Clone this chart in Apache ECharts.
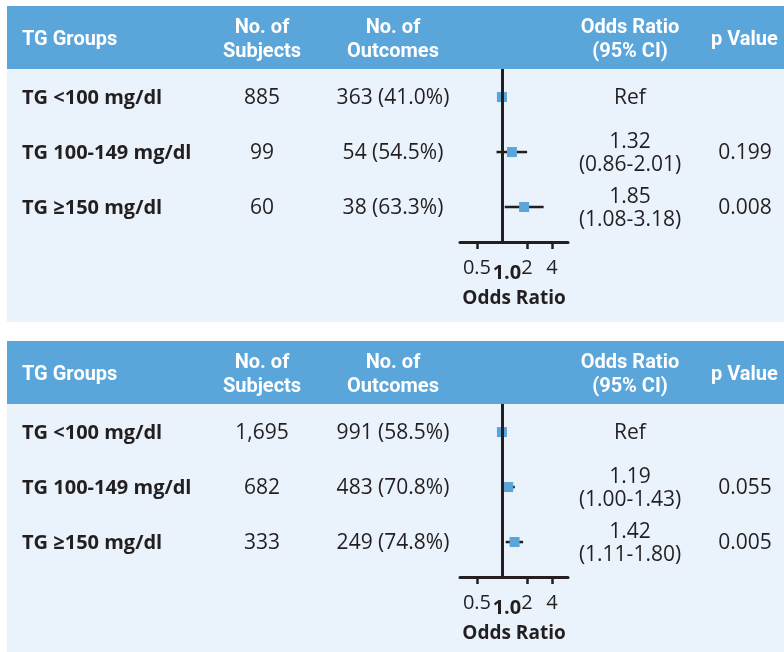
<!DOCTYPE html>
<html>
<head>
<meta charset="utf-8">
<script src="https://cdn.jsdelivr.net/npm/echarts@6/dist/echarts.min.js"></script>
<style>
  html, body { margin: 0; padding: 0; background: #ffffff; }
  #chart { width: 784px; height: 652px; }
</style>
</head>
<body>
<div id="chart"></div>
<script>
// ---- data ----
const groupLabels = ['TG <100 mg/dl', 'TG 100-149 mg/dl', 'TG \u2265150 mg/dl'];

// upper table
const subjectsA = [885, 99, 60];
const outcomesA = [363, 54, 38];
const outcomePctA = [41.0, 54.5, 63.3];
const oddsA = [1, 1.32, 1.85];
const ciLowA = [null, 0.86, 1.08];
const ciHighA = [null, 2.01, 3.18];
const pValueA = [null, 0.199, 0.008];

// lower table
const subjectsB = [1695, 682, 333];
const outcomesB = [991, 483, 249];
const outcomePctB = [58.5, 70.8, 74.8];
const oddsB = [1, 1.19, 1.42];
const ciLowB = [null, 1.00, 1.11];
const ciHighB = [null, 1.43, 1.80];
const pValueB = [null, 0.055, 0.005];

// odds-ratio axis
const oddsTickValues = [0.5, 2, 4];
const oddsLabelValues = [0.5, 1, 2, 4];
const oddsAxisMin = 0.3125;
const oddsAxisMax = 6.25;
const refOdds = 1;

const headerTitles = ['TG Groups', 'No. of\nSubjects', 'No. of\nOutcomes', 'Odds Ratio\n(95% CI)', 'p Value'];

// ---- layout / style ----
const INK = '#231f20';
const BLUE = '#5aa6db';
const PALE = '#eaf2fb';
const HEAD_FONT = 'Roboto, "Open Sans", sans-serif';
const BODY_FONT = '"Open Sans", "Noto Sans", sans-serif';

const panels = [
  { top: 6, height: 316, subjects: subjectsA, outcomes: outcomesA, pct: outcomePctA,
    odds: oddsA, lo: ciLowA, hi: ciHighA, p: pValueA },
  { top: 341, height: 311, subjects: subjectsB, outcomes: outcomesB, pct: outcomePctB,
    odds: oddsB, lo: ciLowB, hi: ciHighB, p: pValueB }
];
const HEADER_H = 63;
const PLOT_H = 173;
const PANEL_X = 7;
const COL = { group: 22, subjects: 262, outcomes: 393, odds: 630, pval: 711, pvalCenter: 745 };

const chart = echarts.init(document.getElementById('chart'), null, { renderer: 'canvas' });

const grids = [], xAxes = [], yAxes = [], series = [];
panels.forEach((pn, k) => {
  grids.push({ left: 460, width: 108, top: pn.top + HEADER_H, height: PLOT_H });
  xAxes.push({
    type: 'log', logBase: 2, gridIndex: k,
    min: oddsAxisMin, max: oddsAxisMax, z: 5,
    axisLine: { show: true, lineStyle: { color: INK, width: 3 } },
    axisTick: { show: true, customValues: oddsTickValues, length: 7, lineStyle: { color: INK, width: 2.5 } },
    axisLabel: {
      customValues: oddsLabelValues, margin: 16, color: INK,
      fontFamily: BODY_FONT, fontSize: 20,
      formatter: v => (Math.abs(v - refOdds) < 1e-9 ? '{ref|1.0}' : '{n|' + v + '}'),
      rich: {
        n: { fontSize: 20, fontFamily: BODY_FONT, color: INK },
        ref: { fontSize: 20, fontWeight: 'bold', fontFamily: BODY_FONT, color: INK, padding: [5, 0, 0, 10] }
      }
    },
    splitLine: { show: false },
    name: 'Odds Ratio', nameLocation: 'middle', nameGap: 47,
    nameTextStyle: { fontFamily: BODY_FONT, fontSize: 19, fontWeight: 'bold', color: INK }
  });
  yAxes.push({
    type: 'value', gridIndex: k, inverse: true, min: 0.49, max: 3.636, show: false
  });

  const ciRows = [];
  pn.lo.forEach((lo, i) => { if (lo !== null) ciRows.push([lo, pn.hi[i], i + 1]); });

  series.push({
    type: 'custom', xAxisIndex: k, yAxisIndex: k, z: 3,
    data: ciRows,
    encode: { x: [0, 1], y: 2 },
    renderItem: (params, api) => {
      const a = api.coord([api.value(0), api.value(2)]);
      const b = api.coord([api.value(1), api.value(2)]);
      return { type: 'line', shape: { x1: a[0], y1: a[1], x2: b[0], y2: b[1] },
               style: { stroke: INK, lineWidth: 2.5 } };
    }
  });
  series.push({
    type: 'scatter', xAxisIndex: k, yAxisIndex: k, z: 4,
    symbol: 'rect', symbolSize: 10,
    itemStyle: { color: BLUE, opacity: 1 },
    data: pn.odds.map((v, i) => [v, i + 1]),
    markLine: {
      silent: true, symbol: 'none', animation: false,
      label: { show: false },
      lineStyle: { color: INK, width: 3, type: 'solid' },
      data: [{ xAxis: refOdds }]
    }
  });
});

chart.setOption({
  animation: false,
  backgroundColor: '#ffffff',
  grid: grids, xAxis: xAxes, yAxis: yAxes, series: series
});

// ---- table text, placed on the rows of each panel's y axis ----
const graphics = [];
const bodyText = (text, x, y, align, bold) => ({
  type: 'text', z: 10,
  style: { text, x, y, align, verticalAlign: 'middle', fill: INK,
           fontSize: bold ? 20 : 21, fontFamily: BODY_FONT, fontWeight: bold ? 'bold' : 'normal', lineHeight: 23 }
});
panels.forEach((pn, k) => {
  graphics.push({ type: 'rect', z: -10, shape: { x: PANEL_X, y: pn.top, width: 784 - PANEL_X, height: pn.height },
                  style: { fill: PALE } });
  graphics.push({ type: 'rect', z: -9, shape: { x: PANEL_X, y: pn.top, width: 784 - PANEL_X, height: HEADER_H },
                  style: { fill: BLUE } });
  const hy = pn.top + HEADER_H / 2 + 2;
  const headX = [COL.group, COL.subjects, COL.outcomes, COL.odds, COL.pval];
  const headAlign = ['left', 'center', 'center', 'center', 'left'];
  headerTitles.forEach((t, j) => {
    graphics.push({ type: 'text', z: 10,
      style: { text: t, x: headX[j], y: hy, align: headAlign[j], verticalAlign: 'middle',
               fill: '#ffffff', fontSize: 20, fontWeight: 'bold', fontFamily: HEAD_FONT, lineHeight: 24 } });
  });
  groupLabels.forEach((g, i) => {
    const y = chart.convertToPixel({ yAxisIndex: k }, i + 1) + 1;
    graphics.push(bodyText(g, COL.group, y, 'left', true));
    graphics.push(bodyText(pn.subjects[i].toLocaleString('en-US'), COL.subjects, y, 'center', false));
    graphics.push(bodyText(pn.outcomes[i] + ' (' + pn.pct[i].toFixed(1) + '%)', COL.outcomes, y, 'center', false));
    const orText = pn.lo[i] === null ? 'Ref'
      : pn.odds[i].toFixed(2) + '\n(' + pn.lo[i].toFixed(2) + '-' + pn.hi[i].toFixed(2) + ')';
    graphics.push(bodyText(orText, COL.odds, y, 'center', false));
    if (pn.p[i] !== null) graphics.push(bodyText(pn.p[i].toFixed(3), COL.pvalCenter, y, 'center', false));
  });
});
chart.setOption({ graphic: graphics });
</script>
</body>
</html>
